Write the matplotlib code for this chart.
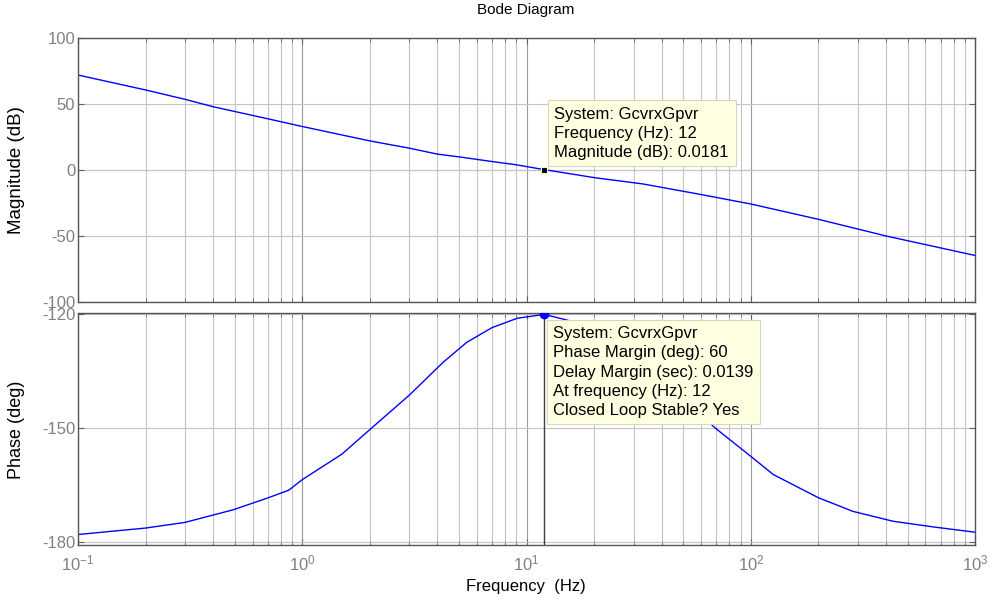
import matplotlib; matplotlib.use('Agg')
import matplotlib.pyplot as plt
import numpy as np

plt.rcParams['font.family'] = ['Liberation Sans', 'DejaVu Sans']
plt.rcParams['axes.unicode_minus'] = False

# magnitude response
mag_f = [0.1, 0.2, 0.3, 0.4, 0.7, 1, 2, 3, 4, 5, 7, 9, 12, 20, 33, 59, 100, 200, 400, 1000]
mag_db = [71.7, 60.4, 53.3, 47.7, 38.6, 32.7, 21.8, 16.3, 11.8, 9.7, 6.2, 3.7, 0.0181,
          -6.0, -10.8, -18.6, -26.0, -37.6, -50.2, -65.0]
# phase response
ph_f = [0.1, 0.2, 0.3, 0.49, 0.69, 0.87, 1, 1.5, 2, 3, 4.25, 5.4, 7, 9.1, 12,
        20.6, 26.7, 33.9, 48, 69.3, 100, 126, 200, 285, 430, 650, 1000]
ph_deg = [-178.1, -176.4, -174.9, -171.6, -168.6, -166.4, -163.6, -156.9, -150.4, -141.3,
          -132.6, -127.4, -123.5, -121.0, -120.0, -123.5, -127.4, -132.6, -141.3, -150.0,
          -157.5, -162.3, -168.4, -172.0, -174.6, -176.1, -177.5]

sys_name = 'GcvrxGpvr'
wc = 12; mag_wc = 0.0181; pm = 60; dm = 0.0139
pm_phase = -180 + pm

fig = plt.figure(figsize=(9.98, 6.01), dpi=100)
ax1 = fig.add_axes([0.0782, 0.498, 0.899, 0.4393])
ax2 = fig.add_axes([0.0782, 0.0930, 0.899, 0.3870], sharex=ax1)

for ax in (ax1, ax2):
    ax.set_xscale('log'); ax.set_xlim(0.1, 1000)
    ax.grid(True, which='major', axis='x', color='#9a9a9a', lw=0.8)
    ax.grid(True, which='minor', axis='x', color='#c4c4c4', lw=0.8)
    ax.grid(True, which='major', axis='y', color='#c4c4c4', lw=0.8)
    ax.tick_params(which='both', direction='in', top=True, right=True, colors='#606060',
                   labelcolor='#808080', labelsize=12, length=4, pad=2)
    ax.tick_params(which='minor', length=3)
    ax.set_axisbelow(True)
    for s in ax.spines.values():
        s.set_color('#555555'); s.set_linewidth(1.0)

ax1.plot(mag_f, mag_db, color='b', lw=1.0)
ax1.axhline(0, color='#909090', lw=0.8, zorder=0.5)
ax1.set_ylim(-100, 100); ax1.set_yticks([-100, -50, 0, 50, 100])
ax1.tick_params(labelbottom=False)
ax1.plot([wc], [mag_wc], 's', ms=5, mfc='k', mec='#f4f4c8', mew=0.8, zorder=5)
ax1.set_ylabel('Magnitude (dB)', fontsize=13.5)
ax1.yaxis.set_label_coords(-0.059, 0.5)

ax2.plot(ph_f, ph_deg, color='b', lw=1.0)
ax2.set_ylim(-180.9, -119.5); ax2.set_yticks([-180, -150, -120])
ax2.vlines(wc, -180.9, pm_phase, color='#404040', lw=1.0, zorder=3)
ax2.plot([wc], [pm_phase], 'o', color='b', ms=6, zorder=5)
ax2.tick_params(axis='x', which='major', pad=6)
ax2.set_ylabel('Phase (deg)', fontsize=13)
ax2.yaxis.set_label_coords(-0.059, 0.496)

box = dict(boxstyle='square,pad=0.4', fc='#ffffe1', ec='#d8d8b8', lw=0.8)
t1 = f'System: {sys_name}\nFrequency (Hz): {wc:g}\nMagnitude (dB): {mag_wc}'
t2 = (f'System: {sys_name}\nPhase Margin (deg): {pm:g}\nDelay Margin (sec): {dm}\n'
      f'At frequency (Hz): {wc:g}\nClosed Loop Stable? Yes')
ax1.annotate(t1, xy=(wc, mag_wc), xytext=(10, 10), textcoords='offset pixels', ha='left',
             va='bottom', fontsize=12, linespacing=1.34, bbox=box, zorder=6)
ax2.annotate(t2, xy=(wc, pm_phase), xytext=(9, -12), textcoords='offset pixels', ha='left',
             va='top', fontsize=12, linespacing=1.34, bbox=box, zorder=6)

fig.text(0.527, 1 - 10/601, 'Bode Diagram', ha='center', va='center', fontsize=11)
fig.text(0.527, 1 - 587/601, 'Frequency  (Hz)', ha='center', va='center', fontsize=12)

plt.savefig('out.png', dpi=100)
plt.close()
